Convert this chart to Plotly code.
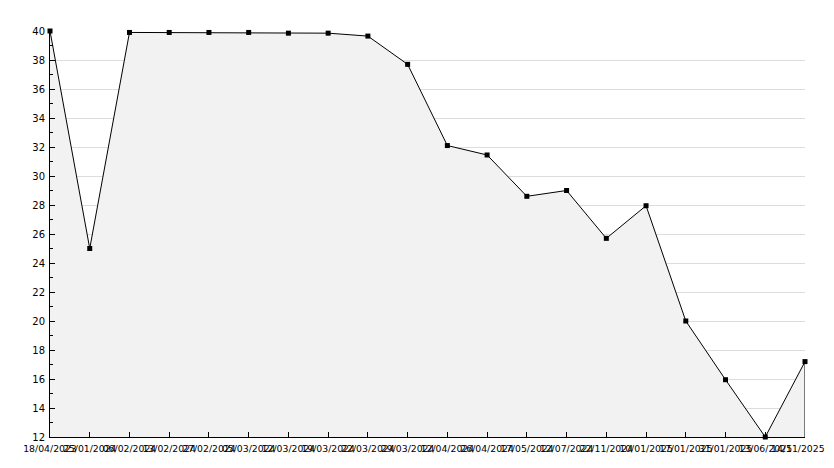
import plotly.graph_objects as go

# ---- data ----
dates = ["18/04/2023", "25/01/2024", "06/02/2024", "13/02/2024", "27/02/2024",
         "05/03/2024", "12/03/2024", "19/03/2024", "22/03/2024", "29/03/2024",
         "12/04/2024", "26/04/2024", "17/05/2024", "12/07/2024", "22/11/2024",
         "10/01/2025", "17/01/2025", "31/01/2025", "13/06/2025", "14/11/2025"]
values = [40.0, 25.0, 39.9, 39.9, 39.9, 39.9, 39.85, 39.85, 39.65, 37.7,
          32.1, 31.45, 28.6, 29.0, 25.7, 27.95, 20.0, 15.95, 12.0, 17.2]
y_min, y_max = 12, 40
y_ticks = list(range(12, 41, 2))

FONT = "DejaVu Sans"
XFONT = dict(family=FONT, size=9.3, color="black")

fig = go.Figure()
fig.add_trace(go.Scatter(
    x=dates, y=values, mode="lines+markers",
    fill="tozeroy", fillcolor="#f2f2f2",
    line=dict(color="black", width=1),
    marker=dict(symbol="square", size=5, color="black"),
    hoverinfo="x+y", showlegend=False, cliponaxis=False,
))
# closing edge of the filled area at the last point
fig.add_trace(go.Scatter(
    x=[dates[-1], dates[-1]], y=[y_min, values[-1]], mode="lines",
    line=dict(color="black", width=1), showlegend=False, hoverinfo="skip",
))

# the last date label is pulled left so that it stays inside the picture
fig.add_annotation(
    x=dates[-1], xref="x", y=0, yref="paper",
    text=dates[-1], showarrow=False, font=XFONT,
    xanchor="right", yanchor="top", xshift=21, yshift=-5,
    borderpad=0,
)

# the page body adds an 8px margin, so the figure is drawn smaller
fig.update_layout(
    width=826, height=452,
    margin=dict(l=42, r=29, t=23, b=23),
    paper_bgcolor="white", plot_bgcolor="white",
    font=dict(family=FONT, size=10, color="black"),
)
fig.update_xaxes(
    type="category", range=[0, len(dates) - 1], automargin=False,
    tickmode="array", tickvals=dates, ticktext=dates[:-1] + [""],
    tickangle=0, ticks="inside", ticklen=5, tickcolor="black",
    showline=True, linecolor="black", linewidth=1,
    showgrid=False, zeroline=False,
    tickfont=XFONT, ticklabelstandoff=3,
)
fig.update_yaxes(
    range=[y_min, y_max], tickvals=y_ticks, automargin=False,
    ticks="inside", ticklen=5, tickcolor="black",
    minor=dict(dtick=1, ticks="inside", ticklen=3, tickcolor="black", showgrid=False),
    showline=True, linecolor="black", linewidth=1,
    showgrid=True, gridcolor="#dddddd", gridwidth=1, zeroline=False,
    tickfont=dict(family=FONT, size=10), ticklabelstandoff=2,
)

fig.write_html("out.html")
